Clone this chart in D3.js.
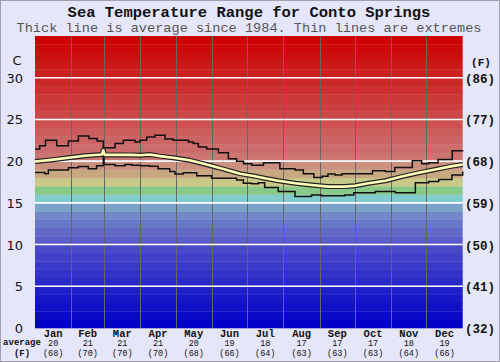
<!DOCTYPE html>
<html><head><meta charset="utf-8">
<script src="https://cdn.jsdelivr.net/npm/d3@7"></script>
<style>body{margin:0;background:#fff}</style>
</head><body>
<svg id="c" width="500" height="362"></svg>
<script>
// ---- data ----
const months = ["Jan","Feb","Mar","Apr","May","Jun","Jul","Aug","Sep","Oct","Nov","Dec"];
const monthDays = [31,28,31,30,31,30,31,31,30,31,30,31];
const avgC = [20,21,21,21,20,19,18,17,17,17,18,19];
const avgF = [68,70,70,70,68,66,64,63,63,63,64,66];
const ticksC = [0,5,10,15,20,25,30];
const ticksF = ["(32)","(41)","(50)","(59)","(68)","(77)","(86)"];

const maxDays  = [0,4,9,18.5,28.5,37,46,53,58.3,68.3,75.4,85.3,89.6,95.3,102.4,111,118,131,135,139.4,146.5,156.5,165,172,178,185,195,209,222,229,238,245,250,256,262,288,299,307,322,330,336,344,356,365];
const maxTemps = [21.45,21.85,22.5,21.85,22.4,23.0,22.7,22.4,21.6,22.1,22.5,22.3,22.5,22.9,23.1,22.65,22.5,22.3,22.1,21.7,21.45,21.0,20.3,20.0,19.7,19.5,19.8,19.1,18.95,18.5,18.05,18.2,18.45,18.35,18.5,18.85,18.75,19.25,20.05,19.7,19.8,20.2,21.25,21.3];

const minDays  = [0,8.5,11.4,28.5,37,45.5,52.6,58.3,58.9,68.3,76.8,82.5,90,98,105,115,119.5,126.6,138,150.8,172,177.8,185,190.6,196,207.6,221.9,236,244.6,264.5,272,290.4,307.5,324.6,336,344.5,355.8,365];
const minTemps = [18.65,18.5,18.95,19.2,19.35,19.1,19.45,20.7,19.6,19.45,19.6,19.5,19.45,19.4,19.1,18.75,18.45,18.6,18.25,17.95,17.75,17.35,17.3,17.4,16.85,16.35,15.75,15.95,15.85,15.95,16.2,16.35,16.2,17.4,17.55,17.8,18.35,18.75];

const avgDays  = [0,14,28.5,42.7,57,58.3,59.5,71,82.5,89.6,98,106.7,118,132,146.5,160.7,175,187.7,196,207.6,222,236,250,264.5,273,284.7,299,313,327.4,341.6,356,365];
const avgTemps = [19.95,20.15,20.4,20.65,20.8,21.3,20.75,20.75,20.75,20.7,20.8,20.6,20.4,20.1,19.6,19.05,18.5,18.2,17.95,17.65,17.35,17.15,16.95,16.95,17.05,17.35,17.65,18.15,18.6,19.0,19.4,19.6];

// band colours, one per degree from 0 upward
const bandColors = ["#0000c8","#0808c8","#1010c8","#1818c8","#2020c8","#2a2ac8","#3232c8","#3a3ac8","#4242c8","#4a4ac8",
  "#5a5cc8","#6068c8","#6878c8","#7088c8","#7ca2c8","#80cccc","#88c888","#c8c888","#c8a880","#cc9080",
  "#cc7672","#cc6c6c","#cc6464","#cc5c5c","#cc5252","#cc4848","#cc4040","#cc3838","#cc3030","#cc2828",
  "#cc2020","#cc1818","#cc1010","#cc0808","#cc0000"];

// ---- chart ----
const svg = d3.select("#c");
const W = 500, H = 362;
const x = d3.scaleLinear().domain([0,365]).range([35,462.7]);
const y = d3.scaleLinear().domain([0,35]).range([328,36]);

svg.append("rect").attr("x",0.5).attr("y",0.5).attr("width",W-1).attr("height",H-1)
  .attr("fill","#e6e6fa").attr("stroke","#a0a0b0");

const mono = "'Liberation Mono','Courier New',monospace";
const sans = "'DejaVu Sans',Verdana,sans-serif";

svg.append("text").attr("x",249).attr("y",16.5).attr("text-anchor","middle")
  .attr("font-family",mono).attr("font-weight","bold").attr("font-size",15.5).attr("fill","#111")
  .text("Sea Temperature Range for Conto Springs");
svg.append("text").attr("x",249).attr("y",31.5).attr("text-anchor","middle")
  .attr("font-family",mono).attr("font-size",13.6).attr("fill","#555")
  .text("Thick line is average since 1984. Thin lines are extremes");

// bands
svg.append("g").selectAll("rect").data(d3.range(35)).join("rect")
  .attr("x",x(0)).attr("width",x(365)-x(0))
  .attr("y",d=>y(d+1)).attr("height",d=>y(d)-y(d+1)+0.3)
  .attr("fill",d=>bandColors[d]);

// month vertical lines
const cum = [0]; monthDays.forEach(d=>cum.push(cum[cum.length-1]+d));
svg.append("g").selectAll("line").data(cum.slice(1,12)).join("line")
  .attr("x1",d=>Math.round(x(d))+0.5).attr("x2",d=>Math.round(x(d))+0.5)
  .attr("y1",y(35)).attr("y2",y(0)).attr("stroke","#666").attr("stroke-width",1);

// horizontal grid
svg.append("g").selectAll("line").data(ticksC.slice(1)).join("line")
  .attr("x1",x(0)).attr("x2",x(365)).attr("y1",d=>y(d)).attr("y2",d=>y(d))
  .attr("stroke","#fff").attr("stroke-width",1.6);

// lines
const toPts = (ds,ts)=>ds.map((d,i)=>[d,ts[i]]);
const stepLine = d3.line().x(d=>x(d[0])).y(d=>y(d[1])).curve(d3.curveStepAfter);
const avgLine = d3.line().x(d=>x(d[0])).y(d=>y(d[1]));
svg.append("path").attr("d",stepLine(toPts(maxDays,maxTemps))).attr("fill","none").attr("stroke","#111").attr("stroke-width",1.5);
svg.append("path").attr("d",stepLine(toPts(minDays,minTemps))).attr("fill","none").attr("stroke","#111").attr("stroke-width",1.5);
svg.append("path").attr("d",avgLine(toPts(avgDays,avgTemps))).attr("fill","none").attr("stroke","#222").attr("stroke-width",5).attr("stroke-linejoin","round");
svg.append("path").attr("d",avgLine(toPts(avgDays,avgTemps))).attr("fill","none").attr("stroke","#ffffb8").attr("stroke-width",2.6).attr("stroke-linejoin","round");

// left axis labels
svg.append("g").selectAll("text").data(ticksC).join("text")
  .attr("x",23).attr("y",d=>y(d)+5).attr("text-anchor","end")
  .attr("font-family",sans).attr("font-size",13).attr("fill","#111").text(d=>d);
svg.append("text").attr("x",17).attr("y",65).attr("text-anchor","middle")
  .attr("font-family",sans).attr("font-size",13).attr("fill","#111").text("C");

// right axis labels
svg.append("g").selectAll("text").data(ticksF).join("text")
  .attr("x",465).attr("y",(d,i)=>y(ticksC[i])+5)
  .attr("font-family",mono).attr("font-weight","bold").attr("font-size",12.5).attr("fill","#111").text(d=>d);
svg.append("text").attr("x",481).attr("y",66).attr("text-anchor","middle")
  .attr("font-family",mono).attr("font-weight","bold").attr("font-size",11).attr("fill","#111").text("(F)");

// bottom month labels
const mid = i=>x((cum[i]+cum[i+1])/2);
const bottom = svg.append("g").attr("font-family",mono).attr("font-weight","bold").attr("fill","#111").attr("text-anchor","middle");
bottom.selectAll("text.m").data(months).join("text").attr("class","m")
  .attr("x",(d,i)=>mid(i)).attr("y",337).attr("font-size",10.5).text(d=>d);
bottom.selectAll("text.c").data(avgC).join("text").attr("class","c")
  .attr("x",(d,i)=>mid(i)).attr("y",346).attr("font-size",8.5).attr("font-weight","normal").text(d=>d);
bottom.selectAll("text.f").data(avgF).join("text").attr("class","f")
  .attr("x",(d,i)=>mid(i)).attr("y",355.5).attr("font-size",8.5).attr("font-weight","normal").text(d=>"("+d+")");
bottom.append("text").attr("x",22).attr("y",345).attr("font-size",9).text("average");
bottom.append("text").attr("x",22).attr("y",356).attr("font-size",9).text("(F)");
</script>
</body></html>
